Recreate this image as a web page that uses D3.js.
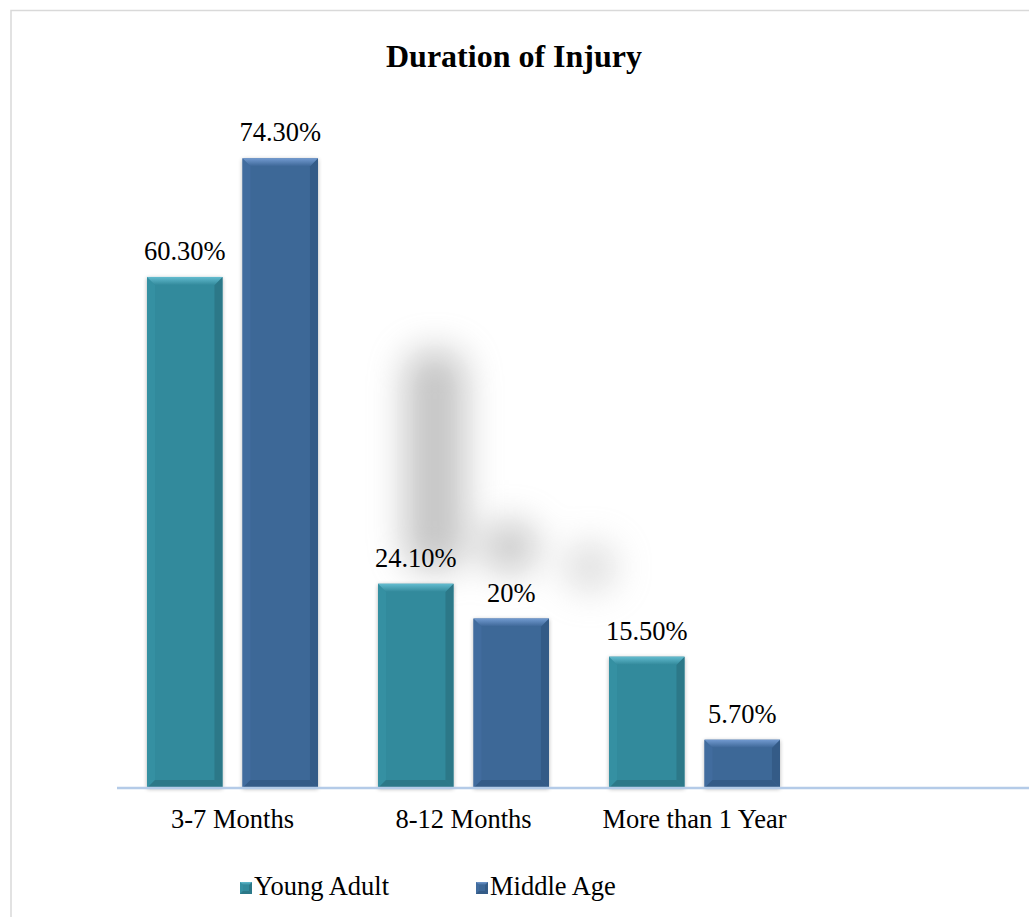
<!DOCTYPE html>
<html>
<head>
<meta charset="utf-8">
<script src="https://cdn.jsdelivr.net/npm/d3@7"></script>
<style>
  html, body { margin: 0; padding: 0; background: #ffffff; }
  svg { display: block; }
</style>
</head>
<body>
<svg id="chart" width="1029" height="917" font-family="'Liberation Serif', 'Times New Roman', 'DejaVu Serif', serif"></svg>
<script>
// Chart data
const categories = ["3-7 Months", "8-12 Months", "More than 1 Year"];
const seriesNames = ["Young Adult", "Middle Age"];
const youngAdult = [60.3, 24.1, 15.5];
const middleAge = [74.3, 20, 5.7];
const valueLabels = [["60.30%", "24.10%", "15.50%"], ["74.30%", "20%", "5.70%"]];
const title = "Duration of Injury";

const seriesValues = [youngAdult, middleAge];
const FONT = "'Liberation Serif', 'Times New Roman', 'DejaVu Serif', serif";
const palette = [
  { base: "#338a9c", light: "#63bccf", dark: "#2c7888", side: "#3590a2" },
  { base: "#3d6797", light: "#729ad0", dark: "#345b87", side: "#416c9e" }
];

const W = 1029, H = 917;
const svg = d3.select("#chart");
const defs = svg.append("defs");

// soft haze filter
defs.append("filter").attr("id", "haze")
  .attr("x", "-80%").attr("y", "-80%").attr("width", "260%").attr("height", "260%")
  .append("feGaussianBlur").attr("stdDeviation", 18);

// bar drop shadow
const sh = defs.append("filter").attr("id", "barShadow")
  .attr("x", "-20%").attr("y", "-10%").attr("width", "140%").attr("height", "120%");
sh.append("feGaussianBlur").attr("in", "SourceAlpha").attr("stdDeviation", 2).attr("result", "b");
sh.append("feOffset").attr("in", "b").attr("dx", 0).attr("dy", 1).attr("result", "o");
sh.append("feComponentTransfer").attr("in", "o").attr("result", "s")
  .append("feFuncA").attr("type", "linear").attr("slope", 0.3);
const m = sh.append("feMerge");
m.append("feMergeNode").attr("in", "s");
m.append("feMergeNode").attr("in", "SourceGraphic");

// top bevel gradients
palette.forEach((p, i) => {
  const g = defs.append("linearGradient").attr("id", "bevelTop" + i)
    .attr("x1", 0).attr("y1", 0).attr("x2", 0).attr("y2", 1);
  g.append("stop").attr("offset", "0%").attr("stop-color", p.light);
  g.append("stop").attr("offset", "100%").attr("stop-color", p.base);
});

// chart frame
svg.append("rect")
  .attr("x", 11).attr("y", 10.5).attr("width", W + 20).attr("height", H + 20)
  .attr("fill", "#fff").attr("stroke", "#d9d9d9").attr("stroke-width", 1.5);

// scales
const x0 = d3.scaleBand().domain(categories).range([117, 810]).paddingInner(0.26).paddingOuter(0.13);
const x1 = d3.scaleBand().domain(seriesNames).range([0, x0.bandwidth()]).paddingInner(0.21);
const y = d3.scaleLinear().domain([0, 80]).range([788, 110]);

// faint blurred haze behind the middle group
const haze = svg.append("g").attr("filter", "url(#haze)").attr("opacity", 0.5);
haze.append("rect").attr("x", 405).attr("y", 350).attr("width", 60).attr("height", 220)
  .attr("rx", 24).attr("fill", "#8a8a8a");
haze.append("ellipse").attr("cx", 510).attr("cy", 547).attr("rx", 28).attr("ry", 26).attr("fill", "#8f8f8f");
haze.append("ellipse").attr("cx", 590).attr("cy", 567).attr("rx", 26).attr("ry", 24).attr("fill", "#b8b8b8");

// bars with bevel
const bevel = 8;
function drawBar(g, bx, by, bw, bh, p, i, b0) {
  const b = Math.min(b0 || bevel, bh / 2);
  g.append("rect").attr("x", bx).attr("y", by).attr("width", bw).attr("height", bh)
    .attr("fill", p.base).attr("filter", b0 ? null : "url(#barShadow)");
  // left bevel
  g.append("polygon").attr("points", [[bx, by], [bx + b, by + b], [bx + b, by + bh - b], [bx, by + bh]].join(" "))
    .attr("fill", p.side);
  // right bevel
  g.append("polygon").attr("points", [[bx + bw, by], [bx + bw - b, by + b], [bx + bw - b, by + bh - b], [bx + bw, by + bh]].join(" "))
    .attr("fill", p.dark);
  // bottom bevel
  g.append("polygon").attr("points", [[bx, by + bh], [bx + b, by + bh - b], [bx + bw - b, by + bh - b], [bx + bw, by + bh]].join(" "))
    .attr("fill", p.dark);
  // top bevel
  g.append("polygon").attr("points", [[bx, by], [bx + bw, by], [bx + bw - b, by + b], [bx + b, by + b]].join(" "))
    .attr("fill", "url(#bevelTop" + i + ")");
}

const bars = svg.append("g");
categories.forEach((c, ci) => {
  seriesNames.forEach((s, si) => {
    const v = seriesValues[si][ci];
    const bx = x0(c) + x1(s);
    const bw = x1.bandwidth();
    const by = y(v);
    const bh = y(0) - y(v);
    drawBar(bars, bx, by, bw, bh, palette[si], si);
    bars.append("text")
      .attr("x", bx + bw / 2).attr("y", by - 17)
      .attr("text-anchor", "middle").attr("font-size", "26.5px")
      .attr("font-family", FONT).attr("fill", "#000")
      .text(valueLabels[si][ci]);
  });
});

// category axis line
svg.append("line").attr("x1", 117).attr("x2", W).attr("y1", 788).attr("y2", 788)
  .attr("stroke", "#b4cbe8").attr("stroke-width", 2.5);

const xAxis = d3.axisBottom(x0).tickSize(0).tickPadding(0);
const axisG = svg.append("g").attr("transform", "translate(0,788)").call(xAxis)
  .attr("font-family", FONT).attr("font-size", "26.5px");
axisG.select(".domain").remove();
axisG.selectAll("text")
  .attr("y", 40).attr("dy", 0).attr("fill", "#000");

// title
svg.append("text").attr("x", 514).attr("y", 67).attr("text-anchor", "middle")
  .attr("font-family", FONT).attr("font-size", "32px").attr("font-weight", "bold")
  .attr("fill", "#000").text(title);

// legend
const legendX = [240, 476];
seriesNames.forEach((s, i) => {
  const g = svg.append("g").attr("transform", `translate(${legendX[i]},882)`);
  drawBar(g, 0, 0, 12, 12, palette[i], i, 3);
  g.append("text").attr("x", 14).attr("y", 13).attr("font-size", "26.5px")
    .attr("font-family", FONT).attr("fill", "#000").text(s);
});
</script>
</body>
</html>
